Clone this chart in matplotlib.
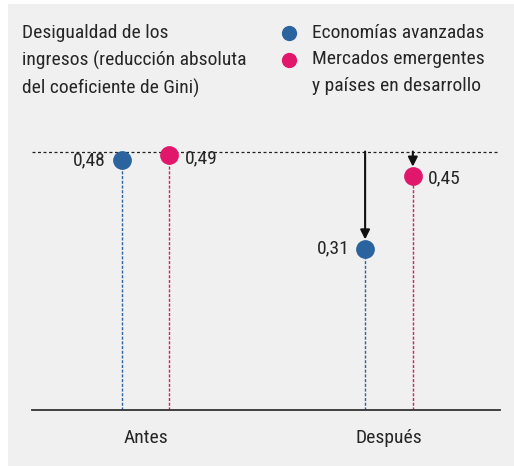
import matplotlib
matplotlib.use("Agg")
import matplotlib.pyplot as plt
from matplotlib.patches import Rectangle

plt.rcParams["font.family"] = ["Roboto Condensed", "Archivo Narrow", "Roboto", "DejaVu Sans"]

# data
periods = ["Antes", "Después"]
advanced = [0.48, 0.31]
emerging = [0.49, 0.45]
advanced_labels = ["0,48", "0,31"]
emerging_labels = ["0,49", "0,45"]
series_names = ["Economías avanzadas", "Mercados emergentes\ny países en desarrollo"]
title = "Desigualdad de los\ningresos (reducción absoluta\ndel coeficiente de Gini)"
ref_level = 0.497

BLUE = "#2a639e"
PINK = "#e0176b"
BG = "#f0f0f0"
TXT = "#262626"
W, H = 514, 466
FS = 14

fig = plt.figure(figsize=(W / 100, H / 100), dpi=100)
fig.patches.append(Rectangle((8 / W, 0), 1, 1 - 4 / H, transform=fig.transFigure,
                             facecolor=BG, edgecolor="none", zorder=-10))

ax = fig.add_axes([32 / W, 1 - 410 / H, 468 / W, 280.8 / H])
ax.set_facecolor("none")
ax.set_xlim(-0.466, 1.456)
ax.set_ylim(0, 0.54)
for s in ["top", "right", "left"]:
    ax.spines[s].set_visible(False)
ax.spines["bottom"].set_linewidth(1.3)
ax.spines["bottom"].set_color("#333333")
ax.set_yticks([])
ax.set_xticks(range(len(periods)))
ax.set_xticklabels(periods, fontsize=FS, color=TXT)
ax.tick_params(axis="x", length=0, pad=14)

off = 0.098
xs_a = [i - off for i in range(len(periods))]
xs_e = [i + off for i in range(len(periods))]

# reference line
ax.axhline(ref_level, color="#222222", lw=0.9, ls=(0, (2.4, 2.0)), zorder=1)

# drop lines
ax.vlines(xs_a, 0, advanced, color=BLUE, lw=1.0, ls=(0, (2.2, 1.2)), zorder=1)
ax.vlines(xs_e, 0, emerging, color=PINK, lw=1.0, ls=(0, (2.2, 1.2)), zorder=1)

# arrows for the "after" values
for x, v in [(xs_a[1], advanced[1]), (xs_e[1], emerging[1])]:
    ax.annotate("", xy=(x, v + 0.018), xytext=(x, ref_level),
                arrowprops=dict(arrowstyle="-|>", color="#111111", lw=1.5,
                                mutation_scale=14, shrinkA=0, shrinkB=0),
                zorder=2)

ax.plot(xs_a, advanced, "o", ms=13.5, color=BLUE, mec="none", zorder=3, clip_on=False)
ax.plot(xs_e, emerging, "o", ms=13.5, color=PINK, mec="none", zorder=3, clip_on=False)

# value labels: advanced on the left, emerging on the right
for x, v, t in zip(xs_a, advanced, advanced_labels):
    ax.annotate(t, (x, v), xytext=(-11.5, 0), textcoords="offset points",
                ha="right", va="center", fontsize=FS, color=TXT)
for x, v, t in zip(xs_e, emerging, emerging_labels):
    ax.annotate(t, (x, v), xytext=(11, -2), textcoords="offset points",
                ha="left", va="center", fontsize=FS, color=TXT)

# title and legend
fig.text(22 / W, 1 - 24 / H, title, ha="left", va="top", fontsize=FS,
         color=TXT, linespacing=1.6)
fig.add_artist(plt.Line2D([289 / W], [1 - 33 / H], marker="o", ms=11, color=BLUE,
                          mec="none", transform=fig.transFigure))
fig.add_artist(plt.Line2D([289 / W], [1 - 60 / H], marker="o", ms=11, color=PINK,
                          mec="none", transform=fig.transFigure))
fig.text(312 / W, 1 - 24 / H, series_names[0] + "\n" + series_names[1], ha="left",
         va="top", fontsize=FS, color=TXT, linespacing=1.6)

fig.savefig("out.png", dpi=100)
